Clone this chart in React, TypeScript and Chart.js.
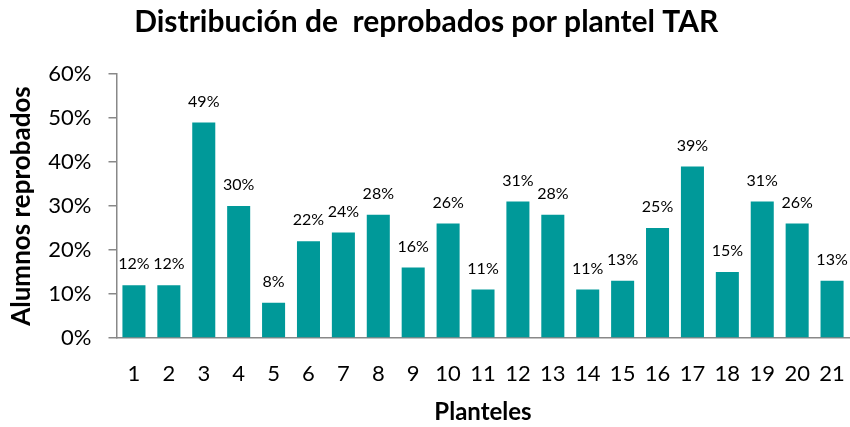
import React, { useEffect, useRef } from "react";
import { Chart, registerables } from "chart.js";

Chart.register(...registerables);

const categories = ["1","2","3","4","5","6","7","8","9","10","11","12","13","14","15","16","17","18","19","20","21"];
const values = [12, 12, 49, 30, 8, 22, 24, 28, 16, 26, 11, 31, 28, 11, 13, 25, 39, 15, 31, 26, 13];
const yTicks = [0, 10, 20, 30, 40, 50, 60];

const FONT = "Lato, 'Open Sans', sans-serif";

const labelPlugin = {
  id: "barLabels",
  afterDatasetsDraw(chart: any) {
    const ctx = chart.ctx;
    const meta = chart.getDatasetMeta(0);
    ctx.save();
    ctx.font = `16px ${FONT}`;
    ctx.fillStyle = "#000";
    ctx.textAlign = "center";
    ctx.textBaseline = "middle";
    meta.data.forEach((el: any, i: number) => {
      ctx.fillText(values[i] + "%", el.x, el.y - 21);
    });
    ctx.restore();
  },
};

export default function App() {
  const ref = useRef<HTMLCanvasElement>(null);
  useEffect(() => {
    if (!ref.current) return;
    const chart = new Chart(ref.current, {
      type: "bar",
      data: {
        labels: categories,
        datasets: [
          {
            data: values,
            backgroundColor: "#009999",
            borderWidth: 0,
            barPercentage: 0.66,
            categoryPercentage: 1,
          },
        ],
      },
      options: {
        responsive: false,
        animation: false,
        layout: { padding: { left: 0, right: 7.5, top: 0, bottom: 0 } },
        plugins: {
          legend: { display: false },
          tooltip: { enabled: false },
          title: {
            display: true,
            text: "Distribución de  reprobados por plantel TAR",
            color: "#000",
            font: { family: FONT, size: 30, weight: "bold" },
            padding: { top: 4, bottom: 34 },
          },
        },
        scales: {
          x: {
            grid: { display: false },
            border: { display: true, color: "#888", width: 1.5 },
            ticks: { color: "#000", font: { family: FONT, size: 22 }, padding: 15, maxRotation: 0, autoSkip: false },
            title: {
              display: true,
              text: "Planteles",
              color: "#000",
              font: { family: FONT, size: 24, weight: "bold" },
              padding: { top: 6, bottom: 0 },
            },
            afterFit: (s: any) => { s.height = 89; },
          },
          y: {
            min: 0,
            max: 60,
            afterBuildTicks: (s: any) => { s.ticks = yTicks.map((v) => ({ value: v })); },
            grid: { drawOnChartArea: false, tickLength: 8, color: "#888", lineWidth: 1.5 },
            border: { display: true, color: "#888", width: 1.5 },
            ticks: {
              color: "#000",
              font: { family: FONT, size: 22 },
              padding: 17,
              callback: (v: any) => v + "%",
            },
            title: {
              display: true,
              text: "Alumnos reprobados",
              color: "#000",
              font: { family: FONT, size: 26, weight: "bold" },
              padding: { top: 6, bottom: 0 },
            },
            afterFit: (s: any) => { s.width = 116.5; },
          },
        },
      },
      plugins: [labelPlugin],
    });
    return () => chart.destroy();
  }, []);
  return (
    <div style={{ position: "fixed", left: 0, top: 0, width: 860, height: 427, background: "#fff" }}>
      <canvas ref={ref} width={860} height={427} style={{ width: 860, height: 427 }} />
    </div>
  );
}
